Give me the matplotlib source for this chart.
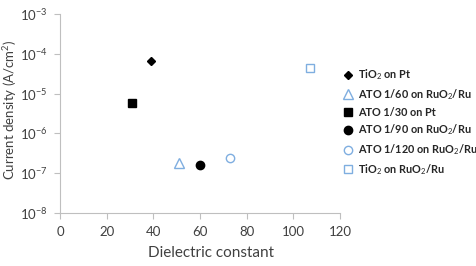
import matplotlib
matplotlib.use('Agg')
import matplotlib.pyplot as plt

# 数据
labels = ['TiO$_2$ on Pt', 'ATO 1/60 on RuO$_2$/Ru', 'ATO 1/30 on Pt',
          'ATO 1/90 on RuO$_2$/Ru', 'ATO 1/120 on RuO$_2$/Ru', 'TiO$_2$ on RuO$_2$/Ru']
dielectric = [39, 51, 31, 60, 73, 107]
current = [6.7e-5, 1.8e-7, 6.0e-6, 1.6e-7, 2.4e-7, 4.3e-5]

blue = '#7FAEE0'
markers = ['D', '^', 's', 'o', 'o', 's']
sizes = [4.5, 6.5, 6, 6, 6, 6]
faces = ['black', 'none', 'black', 'black', 'none', 'none']
edges = ['black', blue, 'black', 'black', blue, blue]

plt.rcParams['font.family'] = ['Lato', 'DejaVu Sans']
plt.rcParams['mathtext.fontset'] = 'custom'
plt.rcParams['mathtext.rm'] = 'Lato'
plt.rcParams['mathtext.bf'] = 'Lato:bold'

fig = plt.figure(figsize=(4.77, 2.66), dpi=100)
ax = fig.add_axes([0.1258, 0.199, 0.587, 0.748])

for i in range(len(labels)):
    ax.plot(dielectric[i], current[i], linestyle='none', marker=markers[i],
            markersize=sizes[i], markerfacecolor=faces[i], markeredgecolor=edges[i],
            markeredgewidth=1.0, label=labels[i])

ax.set_yscale('log')
ax.set_xlim(0, 120)
ax.set_ylim(1e-8, 1e-3)
ax.set_xticks([0, 20, 40, 60, 80, 100, 120])
ax.set_yticks([1e-8, 1e-7, 1e-6, 1e-5, 1e-4, 1e-3])
ax.minorticks_off()
ax.tick_params(axis='both', labelsize=9.5, length=4, width=0.8, colors='#404040', pad=5)
ax.tick_params(axis='both', color='#BFBFBF')
for s in ['top', 'right']:
    ax.spines[s].set_visible(False)
for s in ['left', 'bottom']:
    ax.spines[s].set_color('#BFBFBF')
    ax.spines[s].set_linewidth(0.8)

ax.set_xlabel('Dielectric constant', fontsize=11, color='#404040')
ax.xaxis.set_label_coords(0.539, -0.165)
ax.set_ylabel('Current density (A/cm$^2$)', fontsize=9.5, color='#404040')
ax.yaxis.set_label_coords(-0.145, 0.52)

leg = ax.legend(loc='center left', bbox_to_anchor=(0.975, 0.457), frameon=False,
                handletextpad=0.4, labelspacing=0.45, handlelength=1.0,
                prop={'family': ['Lato', 'DejaVu Sans'], 'weight': 'bold', 'size': 7.8})
for t in leg.get_texts():
    t.set_color('#262626')

fig.savefig('out.png', dpi=100)
